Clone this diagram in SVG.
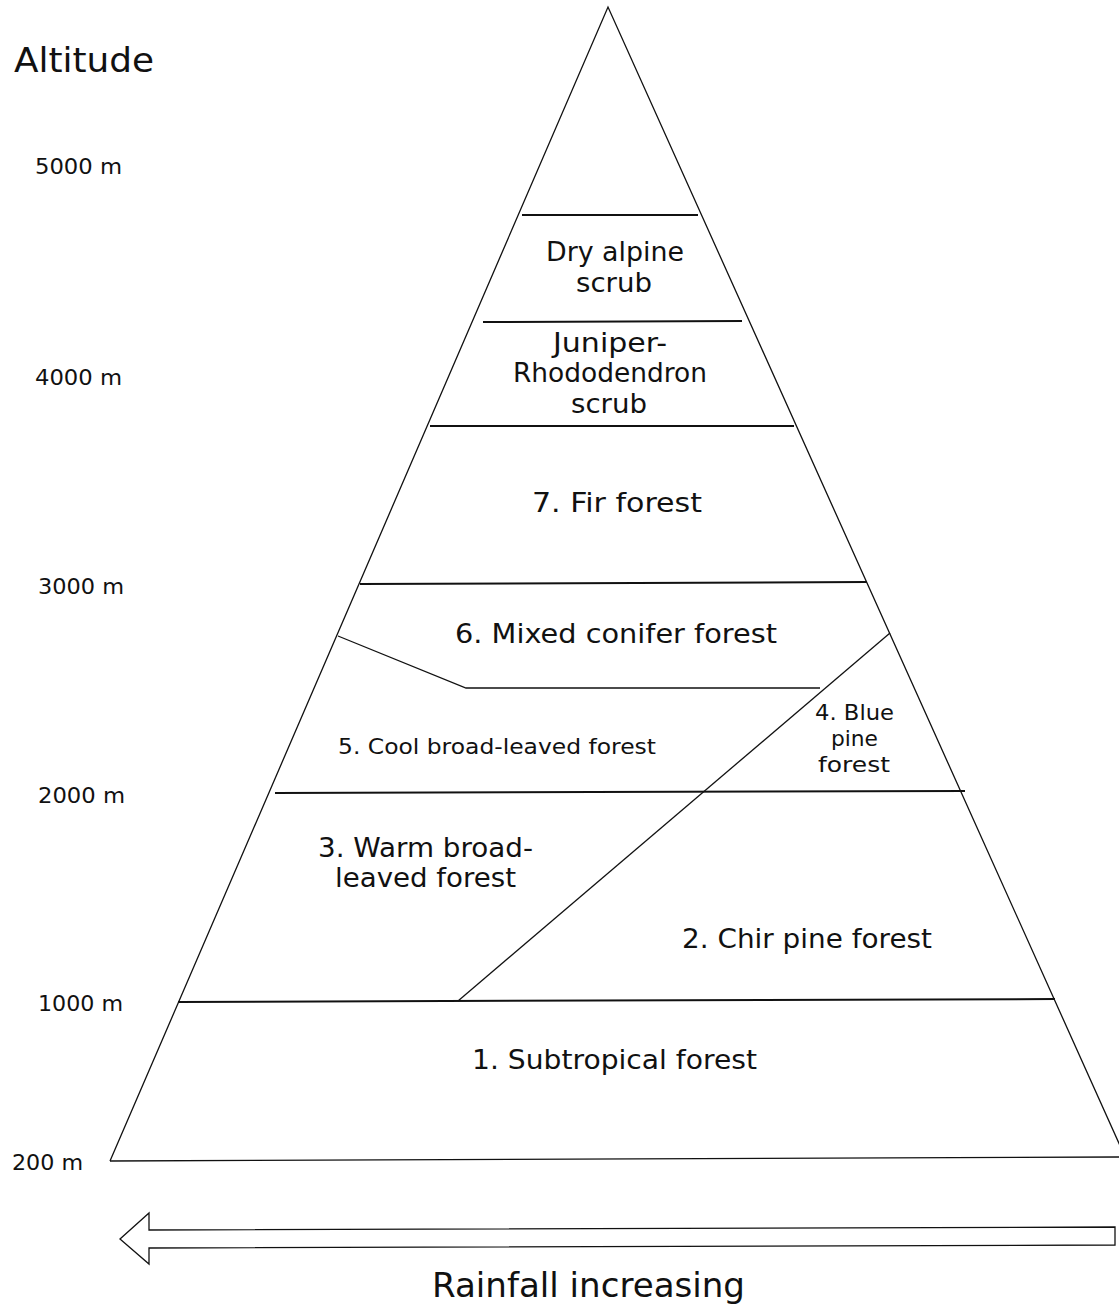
<svg xmlns="http://www.w3.org/2000/svg" width="1119" height="1310" viewBox="0 0 1119 1310">
<style>
.ln{stroke:#111;stroke-width:1.3;fill:none}
.bd{stroke:#111;stroke-width:2;fill:none}
.t{font-family:"DejaVu Sans","Open Sans",sans-serif;fill:#111}
.lab{font-size:26px;text-anchor:middle}
.sm{font-size:22px;text-anchor:middle}
.ax{font-size:21px}
</style>
<rect width="1119" height="1310" fill="#fff"/>
<g id="pyramid">
<polyline class="ln" points="110,1161 608,7 1122,1150"/>
<line class="ln" x1="110" y1="1161" x2="1119" y2="1157"/>
</g>
<g id="connectors">
<line class="bd" x1="522" y1="215" x2="698" y2="215"/>
<line class="bd" x1="483" y1="322" x2="742" y2="321"/>
<line class="bd" x1="430" y1="426" x2="794" y2="426"/>
<line class="bd" x1="360" y1="584" x2="867" y2="582"/>
<polyline class="ln" points="338,636 466,688 820,688"/>
<line class="bd" x1="275" y1="793" x2="965" y2="791"/>
<line class="bd" x1="178" y1="1002" x2="1055" y2="999"/>
<line class="ln" x1="458" y1="1001" x2="890" y2="633"/>
</g>
<g id="arrow">
<polygon class="ln" points="120,1239 149,1213 149,1230 1115,1227 1115,1245 149,1248 149,1264"/>
</g>
<g id="labels">
<text class="t" x="14" y="72" font-size="33" textLength="140" lengthAdjust="spacingAndGlyphs">Altitude</text>
<text class="t ax" x="35" y="174" textLength="87" lengthAdjust="spacingAndGlyphs">5000 m</text>
<text class="t ax" x="35" y="385" textLength="87" lengthAdjust="spacingAndGlyphs">4000 m</text>
<text class="t ax" x="38" y="594" textLength="86" lengthAdjust="spacingAndGlyphs">3000 m</text>
<text class="t ax" x="38" y="803" textLength="87" lengthAdjust="spacingAndGlyphs">2000 m</text>
<text class="t ax" x="38" y="1011" textLength="85" lengthAdjust="spacingAndGlyphs">1000 m</text>
<text class="t ax" x="12" y="1170" textLength="71" lengthAdjust="spacingAndGlyphs">200 m</text>
<text class="t" x="588.5" y="1297" font-size="34" text-anchor="middle" textLength="313" lengthAdjust="spacingAndGlyphs">Rainfall increasing</text>
</g>
<g id="n-dry-alpine">
<text class="t lab" x="615" y="261" textLength="138" lengthAdjust="spacingAndGlyphs">Dry alpine</text>
<text class="t lab" x="614" y="292" textLength="76" lengthAdjust="spacingAndGlyphs">scrub</text>
</g>
<g id="n-juniper">
<text class="t lab" x="610" y="352" textLength="114" lengthAdjust="spacingAndGlyphs">Juniper-</text>
<text class="t lab" x="610" y="382" textLength="194" lengthAdjust="spacingAndGlyphs">Rhododendron</text>
<text class="t lab" x="609" y="413" textLength="76" lengthAdjust="spacingAndGlyphs">scrub</text>
</g>
<g id="n-fir"><text class="t lab" x="617" y="512" textLength="170" lengthAdjust="spacingAndGlyphs">7. Fir forest</text></g>
<g id="n-mixed"><text class="t lab" x="616" y="643" textLength="322" lengthAdjust="spacingAndGlyphs">6. Mixed conifer forest</text></g>
<g id="n-cool"><text class="t sm" x="497" y="754" textLength="318" lengthAdjust="spacingAndGlyphs">5. Cool broad-leaved forest</text></g>
<g id="n-blue">
<text class="t sm" x="854.5" y="720" textLength="79" lengthAdjust="spacingAndGlyphs">4. Blue</text>
<text class="t sm" x="854.5" y="746" textLength="47" lengthAdjust="spacingAndGlyphs">pine</text>
<text class="t sm" x="854" y="772" textLength="72" lengthAdjust="spacingAndGlyphs">forest</text>
</g>
<g id="n-warm">
<text class="t lab" x="425.5" y="857" textLength="215" lengthAdjust="spacingAndGlyphs">3. Warm broad-</text>
<text class="t lab" x="425.5" y="887" textLength="181" lengthAdjust="spacingAndGlyphs">leaved forest</text>
</g>
<g id="n-chir"><text class="t lab" x="807" y="948" textLength="250" lengthAdjust="spacingAndGlyphs">2. Chir pine forest</text></g>
<g id="n-sub"><text class="t lab" x="614.5" y="1069" textLength="285" lengthAdjust="spacingAndGlyphs">1. Subtropical forest</text></g>
</svg>
